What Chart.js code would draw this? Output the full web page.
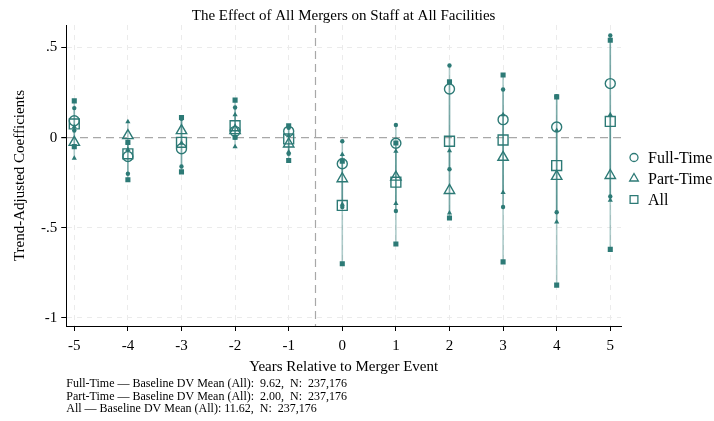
<!DOCTYPE html>
<html>
<head>
<meta charset="utf-8">
<script src="https://cdn.jsdelivr.net/npm/chart.js@4/dist/chart.umd.min.js"></script>
<style>
  html, body { margin: 0; padding: 0; background: #fff; }
  #wrap { width: 714px; height: 421px; }
</style>
</head>
<body>
<div id="wrap"><canvas id="chartMergers"></canvas></div>
<script>
// years relative to merger event
const YEARS = [-5, -4, -3, -2, -1, 0, 1, 2, 3, 4, 5];

// Full-Time: estimate and CI ends
const FULL_EST = [0.094, -0.105, -0.062, 0.035, 0.035, -0.145, -0.031, 0.27, 0.10, 0.059, 0.30];
const FULL_LO = [0.039, -0.20, -0.16, 0.0, -0.09, -0.385, -0.407, -0.175, -0.385, -0.414, -0.326];
const FULL_HI = [0.164, -0.03, 0.105, 0.167, 0.055, -0.02, 0.07, 0.40, 0.267, 0.23, 0.567];

// Part-Time
const PART_EST = [-0.026, 0.011, 0.039, 0.039, -0.035, -0.228, -0.219, -0.293, -0.109, -0.215, -0.21];
const PART_LO = [-0.114, -0.066, -0.03, -0.05, -0.08, -0.37, -0.366, -0.418, -0.304, -0.468, -0.348];
const PART_HI = [0.06, 0.088, 0.109, 0.127, 0.01, -0.094, -0.076, -0.072, 0.127, 0.04, 0.127];

// All
const ALL_EST = [0.076, -0.09, -0.026, 0.066, -0.007, -0.376, -0.247, -0.02, -0.013, -0.155, 0.09];
const ALL_LO = [-0.05, -0.234, -0.19, 0.002, -0.127, -0.70, -0.59, -0.446, -0.689, -0.818, -0.62];
const ALL_HI = [0.204, -0.026, 0.112, 0.208, 0.066, -0.13, -0.03, 0.31, 0.348, 0.226, 0.54];

const Y_TICKS = [-1, -0.5, 0, 0.5];
const MERGER_LINE = -0.5;

const NOTES = [
  "Full-Time \u2014 Baseline DV Mean (All):  9.62,  N:  237,176",
  "Part-Time \u2014 Baseline DV Mean (All):  2.00,  N:  237,176",
  "All \u2014 Baseline DV Mean (All): 11.62,  N:  237,176",
];

const LEGEND_ITEMS = [
  { text: "Full-Time", style: "circle", radius: 4 },
  { text: "Part-Time", style: "triangle", radius: 5 },
  { text: "All", style: "rect", radius: 5.5 },
];

const TEAL = "#2d7a76";
const TEAL_LINE = "rgba(45, 122, 118, 0.38)";
const SERIF = "'Liberation Serif', 'DejaVu Serif', serif";


function pointsOf(values) {
  return YEARS.map((x, i) => ({ x: x, y: values[i] }));
}


function ciSegments(lo, hi) {
  const out = [];
  YEARS.forEach((x, i) => {
    out.push({ x: x, y: lo[i] });
    out.push({ x: x, y: hi[i] });
    out.push({ x: x, y: null });
  });
  return out;
}


function ciDataset(lo, hi, style, radius) {
  return {
    label: "",
    data: ciSegments(lo, hi),
    showLine: true,
    spanGaps: false,
    borderColor: TEAL_LINE,
    borderWidth: 1.6,
    pointStyle: style,
    pointRadius: radius,
    pointBackgroundColor: TEAL,
    pointBorderColor: TEAL,
    pointBorderWidth: 0,
    order: 3,
  };
}


function estDataset(label, values, style, radius) {
  return {
    label: label,
    data: pointsOf(values),
    showLine: false,
    pointStyle: style,
    pointRadius: radius,
    backgroundColor: "rgba(0,0,0,0)",
    borderColor: TEAL,
    borderWidth: 1.4,
    order: 1,
  };
}


const mergerLinePlugin = {
  id: "mergerLine",
  beforeDatasetsDraw(chart) {
    const { ctx, chartArea, scales } = chart;
    const px = Math.round(scales.x.getPixelForValue(MERGER_LINE)) + 0.5;
    ctx.save();
    ctx.strokeStyle = "#a8a8a8";
    ctx.lineWidth = 1.2;
    ctx.setLineDash([8, 5]);
    ctx.beginPath();
    ctx.moveTo(px, chartArea.top);
    ctx.lineTo(px, chartArea.bottom);
    ctx.stroke();
    ctx.restore();
  },
};


// legend to the right of the plot, plus the notes under the x axis
const sideTextPlugin = {
  id: "sideText",
  afterDraw(chart) {
    const { ctx, chartArea } = chart;
    const h = chart.height;
    const midY = (chartArea.top + chartArea.bottom) / 2;

    ctx.save();
    ctx.textBaseline = "middle";
    ctx.fillStyle = "#000";

    ctx.font = "16px " + SERIF;
    LEGEND_ITEMS.forEach((item, i) => {
      const y = midY - 18 + i * 21;
      const x = chartArea.right + 13;
      ctx.strokeStyle = TEAL;
      ctx.fillStyle = "rgba(0,0,0,0)";
      ctx.lineWidth = 1.3;
      Chart.helpers.drawPoint(ctx, { pointStyle: item.style, radius: item.radius, rotation: 0, borderWidth: 1.3 }, x, y);
      ctx.fillStyle = "#000";
      ctx.fillText(item.text, x + 14, y + 1);
    });

    ctx.font = "12px " + SERIF;
    NOTES.forEach((line, i) => {
      ctx.fillText(line, chartArea.left, h - 37 + i * 12.5);
    });
    ctx.restore();
  },
};


function yLabel(v) {
  if (v === 0) return "0";
  const s = String(Math.abs(v)).replace(/^0/, "");
  return (v < 0 ? "-" : "") + s;
}


new Chart(document.getElementById("chartMergers"), {
  type: "scatter",
  data: {
    datasets: [
      estDataset("Full-Time", FULL_EST, "circle", 5),
      estDataset("Part-Time", PART_EST, "triangle", 6),
      estDataset("All", ALL_EST, "rect", 7),
      ciDataset(FULL_LO, FULL_HI, "circle", 2.2),
      ciDataset(PART_LO, PART_HI, "triangle", 3),
      ciDataset(ALL_LO, ALL_HI, "rect", 3.6),
    ],
  },
  options: {
    responsive: true,
    maintainAspectRatio: false,
    animation: false,
    layout: {
      padding: { left: 11, right: 93, top: 0, bottom: 45 },
    },
    plugins: {
      title: {
        display: true,
        text: "The Effect of All Mergers on Staff at All Facilities",
        fullSize: false,
        color: "#000",
        font: { family: SERIF, size: 15, weight: "normal" },
        padding: { top: 7, bottom: 0 },
      },
      legend: { display: false },
      tooltip: { enabled: false },
    },
    scales: {
      x: {
        type: "linear",
        min: -5.15,
        max: 5.2,
        title: {
          display: true,
          text: "Years Relative to Merger Event",
          color: "#000",
          font: { family: SERIF, size: 15 },
          padding: { top: -4, bottom: 0 },
        },
        ticks: {
          stepSize: 1,
          includeBounds: false,
          color: "#000",
          font: { family: SERIF, size: 15, lineHeight: 1 },
          padding: 8,
        },
        grid: {
          color: "#ebebeb",
          lineWidth: 1,
          tickLength: 5,
          tickColor: "#000",
          tickBorderDash: [],
        },
        border: { color: "#000", width: 1, dash: [5, 5] },
      },
      y: {
        type: "linear",
        min: -1.045,
        max: 0.625,
        afterBuildTicks: (axis) => {
          axis.ticks = Y_TICKS.map((v) => ({ value: v }));
        },
        title: {
          display: true,
          text: "Trend-Adjusted Coefficients",
          color: "#000",
          font: { family: SERIF, size: 15 },
          padding: { top: 0, bottom: 8 },
        },
        ticks: {
          color: "#000",
          font: { family: SERIF, size: 15 },
          padding: 4,
          callback: (v) => yLabel(v),
        },
        grid: {
          color: (ctx) => (ctx.tick && ctx.tick.value === 0 ? "#a8a8a8" : "#ebebeb"),
          lineWidth: (ctx) => (ctx.tick && ctx.tick.value === 0 ? 1.2 : 1),
          tickLength: 5,
          tickColor: "#000",
          tickBorderDash: [],
        },
        border: {
          color: "#000",
          width: 1,
          dash: (ctx) => (ctx.tick && ctx.tick.value === 0 ? [8, 5] : [5, 5]),
        },
      },
    },
  },
  plugins: [mergerLinePlugin, sideTextPlugin],
});
</script>
</body>
</html>
